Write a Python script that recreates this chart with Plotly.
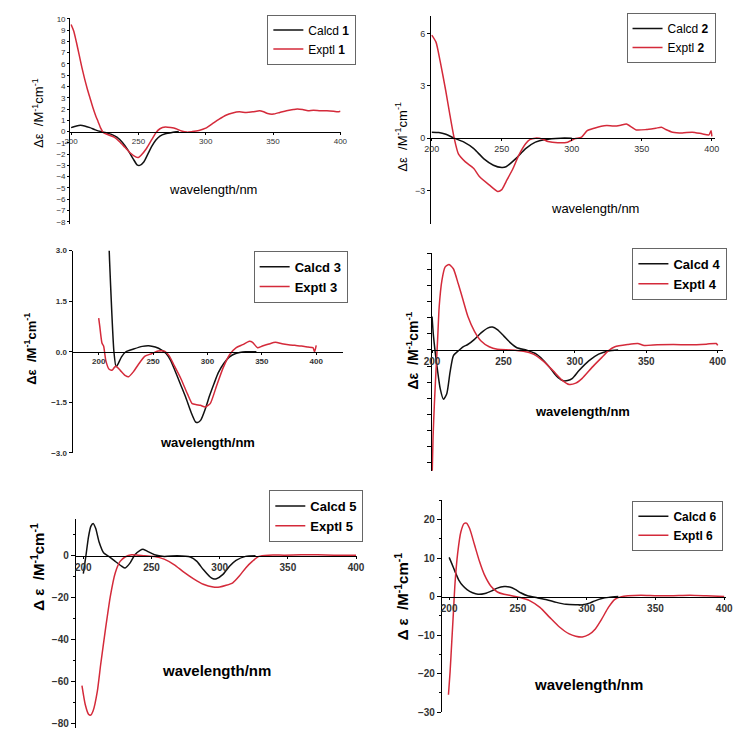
import plotly.graph_objects as go

# ---- data (wavelength nm, delta epsilon) ----
wl_c1 = [200, 204, 207, 210, 214, 218, 222, 226, 230, 234, 238, 242, 246, 249, 251, 254, 257, 260, 263, 266, 270, 275, 280]
de_c1 = [0.35, 0.5, 0.55, 0.5, 0.35, 0.15, 0.0, -0.1, -0.25, -0.5, -0.95, -1.6, -2.4, -2.95, -3.0, -2.7, -2.0, -1.3, -0.75, -0.4, -0.2, -0.08, 0.0]
wl_e1 = [200, 202, 204, 206, 208, 210, 212, 214, 216, 218, 220, 222, 224, 228, 232, 236, 240, 244, 248, 250,
         252, 256, 260, 263, 266, 270, 274, 278, 282, 286, 290, 295, 300, 305, 310, 315, 320, 325, 330, 335,
         340, 343, 346, 350, 355, 360, 365, 368, 372, 376, 380, 385, 390, 395, 398, 400]
de_e1 = [9.5, 8.9, 7.9, 6.8, 5.7, 4.7, 3.8, 3.0, 2.2, 1.5, 0.9, 0.3, -0.1, -0.3, -0.5, -0.9, -1.4, -1.9, -2.25, -2.3,
         -2.1, -1.5, -0.7, -0.1, 0.25, 0.4, 0.35, 0.25, 0.05, -0.05, 0.0, 0.1, 0.3, 0.7, 1.1, 1.45, 1.65, 1.75, 1.7, 1.75,
         1.85, 1.75, 1.6, 1.55, 1.7, 1.85, 1.95, 2.0, 1.95, 1.85, 1.9, 1.85, 1.85, 1.8, 1.75, 1.8]

wl_c2 = [200, 205, 210, 216, 223, 230, 237, 244, 250, 253, 260, 267, 274, 281, 292, 300]
de_c2 = [0.34, 0.32, 0.22, 0.0, -0.23, -0.6, -1.17, -1.55, -1.68, -1.64, -1.17, -0.6, -0.23, -0.08, 0.0, 0.0]
wl_e2 = [200, 203, 206, 210, 213, 216, 219, 224, 230, 234, 241, 247, 250, 253, 258, 262, 267, 270, 274, 279,
         283, 290, 297, 302, 307, 311, 316, 321, 325, 330, 335, 339, 343, 346, 353, 360, 364, 367, 372, 379,
         386, 393, 398, 399.5, 400]
de_e2 = [5.9, 5.5, 4.4, 2.7, 1.3, 0.0, -0.9, -1.36, -1.74, -2.2, -2.68, -3.05, -2.95, -2.5, -1.74, -1.0, -0.32, -0.08, 0.0, -0.05,
         -0.19, -0.26, -0.23, -0.04, 0.06, 0.43, 0.57, 0.68, 0.72, 0.69, 0.74, 0.81, 0.62, 0.47, 0.49, 0.57, 0.62, 0.5, 0.34, 0.3,
         0.34, 0.25, 0.19, 0.43, 0.1]

wl_c3 = [208, 210, 212, 214, 216, 218, 221, 225, 232, 240, 246, 252, 258, 262, 266, 270, 275, 280, 285, 289,
         291, 294, 298, 302, 306, 310, 315, 320, 326, 335, 345]
de_c3 = [4.5, 2.7, 1.2, 0.0, -0.45, -0.35, -0.15, 0.0, 0.08, 0.16, 0.18, 0.14, 0.05, -0.05, -0.25, -0.55, -0.95, -1.35, -1.8, -2.08,
         -2.1, -2.02, -1.7, -1.3, -0.95, -0.62, -0.35, -0.16, -0.05, 0.0, 0.0]
wl_e3 = [200, 201, 203, 204.5, 206.6, 209.6, 212.6, 215.6, 220, 224.6, 227.6, 232, 236.6, 242.6, 248.6, 254.6, 260.6, 265, 269.6, 275.6,
         281.6, 286, 290, 293.6, 298, 302.5, 308.5, 314.5, 320.5, 326.5, 332.5, 338.5, 341.5, 346, 350.5, 356.5, 362.5, 368.5, 374.5, 380.5,
         386.5, 392.5, 397, 398.5, 400]
de_e3 = [1.0, 0.75, 0.26, 0.17, -0.27, -0.52, -0.54, -0.42, -0.56, -0.71, -0.74, -0.59, -0.37, -0.13, -0.06, 0.02, 0.02, -0.13, -0.42, -0.8,
         -1.25, -1.54, -1.57, -1.59, -1.64, -1.54, -1.0, -0.47, -0.08, 0.12, 0.21, 0.31, 0.28, 0.12, 0.17, 0.23, 0.28, 0.24, 0.21, 0.19,
         0.17, 0.14, 0.12, 0.0, 0.19]

wl_c4 = [200, 201, 203.4, 205.7, 208, 210.3, 212.6, 214.9, 218.3, 221.7, 225, 229.7, 234.3, 238.9, 242.3, 245.7, 250.3, 254.9, 259.4, 266.3,
         273, 277.7, 282.3, 286.9, 291.4, 294.9, 298.3, 302.9, 309.7, 316.6, 323.4, 330.3]
de_c4 = [10.4, 4.3, -4.9, -12, -15.3, -13.6, -6.9, -1.8, -0.3, 1.0, 1.7, 3.3, 5.3, 6.8, 7.1, 6.3, 4.3, 2.2, 0.7, -0.1,
         -1.3, -3.1, -5.4, -8.0, -9.5, -9.5, -8.8, -6.4, -3.4, -1.3, -0.3, 0.0]
wl_e4 = [200, 200.7, 201.6, 202.7, 203.9, 205, 206.9, 209.1, 211.9, 214.9, 218.3, 221.7, 225.1, 229.7, 234.3, 240, 245.7, 254.9, 264, 270.9,
         277.7, 284.6, 291.4, 296, 300.6, 305.1, 312, 318.9, 323.4, 328, 337.1, 344, 348.6, 357.7, 369, 380.6, 392, 399, 400]
de_e4 = [-40, -27, -17, -6.9, 3.3, 13.5, 21.6, 25.7, 26.5, 25.2, 20.6, 15.5, 10.4, 5.8, 2.8, 1.0, 0.2, 0.0, -0.4, -1.3,
         -3.4, -6.4, -9.5, -10.7, -10.3, -8.8, -5.4, -2.3, -0.3, 1.0, 1.7, 2.0, 1.4, 1.6, 1.7, 1.6, 1.8, 2.0, 1.4]

wl_c5 = [200, 201.9, 203.8, 205.5, 207.2, 209.1, 211.5, 215, 218.7, 223.4, 228.2, 230.6, 234.2, 237.8, 241.4, 243.8, 247.4, 252.2, 259.3, 268.9,
         278.5, 283.3, 288, 292.8, 295.2, 297.6, 302.4, 307.2, 312, 319, 326.3]
de_c5 = [-8.5, 0, 9, 14, 15.4, 13, 6.7, 1.3, -0.3, -2.7, -5.0, -5.8, -3.5, 0.5, 2.5, 3.1, 2.0, 0.5, -0.3, 0,
         -0.6, -2.7, -6.6, -10, -11, -11, -8.9, -5, -2.2, -0.3, 0]
wl_e5 = [199, 201.4, 203.8, 205.5, 207.2, 210.3, 212.7, 216.3, 219.9, 223.4, 227, 230.6, 235.4, 240.2, 245, 252.2, 259.3, 266.5, 273.7, 280.9,
         288, 295.2, 300, 304.8, 309.6, 314.4, 319.1, 323.9, 328.7, 335.9, 347.8, 359.8, 371.8, 383.7, 400]
de_e5 = [-62, -71, -75.6, -76, -74, -64.6, -52, -34.8, -19, -8.2, -2.7, -0.6, 0.5, 0.3, 0, -0.3, -1.6, -4.2, -7.8, -11,
         -13.6, -14.9, -14.9, -14.1, -12.9, -9.7, -5.8, -2.7, -0.3, 0.3, 0.3, 0.5, 0.5, 0.3, 0.2]

wl_c6 = [200, 202, 204.3, 207, 210, 213, 217, 221, 226, 231, 235, 240, 244, 248, 252, 257, 264, 271, 278, 285,
         292, 297, 302, 306, 311, 316, 323]
de_c6 = [10.2, 8.5, 6.5, 4.3, 2.8, 1.8, 1.0, 0.6, 0.8, 1.5, 2.2, 2.6, 2.5, 1.9, 1.0, 0.2, -0.3, -0.8, -1.5, -2.0,
         -2.1, -2.1, -1.7, -1.1, -0.5, -0.2, 0.0]
wl_e6 = [199.5, 200.7, 201.9, 203.1, 204.3, 206.2, 208.5, 210.9, 212.6, 214.9, 218.5, 222.1, 225.6, 230.4, 235.1, 239.9, 244.6, 251.7, 258.8, 266,
         273.1, 280.2, 287.3, 292, 296.8, 301.5, 306.3, 311, 315.8, 320.5, 325.3, 330, 339.5, 351.4, 363.2, 375.1, 387, 400]
de_e6 = [-25.5, -19.5, -11.8, -4.1, 3.6, 11.3, 16.8, 19.0, 19.1, 17.7, 13.4, 9.1, 5.7, 2.7, 1.2, 0.6, 0.3, -0.25, -1.1, -2.8,
         -5.4, -7.9, -9.7, -10.3, -10.5, -9.9, -8.4, -5.8, -2.8, -0.7, 0.0, 0.2, 0.35, 0.2, 0.25, 0.35, 0.2, 0.0]

x_ticks = [200, 250, 300, 350, 400]

W, H = 751, 742
FONT = "Liberation Sans, Arial, sans-serif"
RED = "#d42a3a"


def fx(px):
    return px / W


def fy(py):
    return 1 - py / H


# layout of each panel in pixels: plot box, ranges, legend centre, titles
panels = [
    dict(n=1, c=(wl_c1, de_c1), e=(wl_e1, de_e1), box=(63.5, 340, 13.9, 223), xr=[199.3, 400.3], yr=[-8.2, 10.1],
         yt=dict(tickvals=list(range(-8, 11)), ticks="outside", ticklen=2), tick_size=8, bold=False,
         leg=(265, 36), leg_size=12, xt=(209, 188), xt_size=13, ytl=(30, 110), ytl_size=13,
         ytitle="Δε  /M<sup>-1</sup>cm<sup>-1</sup>"),
    dict(n=2, c=(wl_c2, de_c2), e=(wl_e2, de_e2), box=(432.3, 722, 12.1, 222.7), xr=[199.5, 402], yr=[-4.9, 7.0],
         yt=dict(tickvals=[-3, 0, 3, 6], ticks="outside", ticklen=3), tick_size=9, bold=False,
         leg=(632, 34.5), leg_size=12, xt=(600, 207), xt_size=13, ytl=(402, 134), ytl_size=13,
         ytitle="Δε  /M<sup>-1</sup>cm<sup>-1</sup>"),
    dict(n=3, c=(wl_c3, de_c3), e=(wl_e3, de_e3), box=(66, 342.7, 250, 455), xr=[176, 425], yr=[-3, 3],
         yt=dict(tickvals=[-3, -1.5, 0, 1.5, 3], tickformat=".1f", ticks="outside", ticklen=3), tick_size=8, bold=True,
         leg=(251, 276.5), leg_size=13, xt=(204, 444), xt_size=13, ytl=(23, 350), ytl_size=13,
         ytitle="Δε  /M<sup>-1</sup>cm<sup>-1</sup>"),
    dict(n=4, c=(wl_c4, de_c4), e=(wl_e4, de_e4), box=(433, 731, 252.7, 473.2), xr=[199.8, 404], yr=[-37.5, 30],
         yt=dict(tickvals=list(range(-35, 31, 5)), showticklabels=False, ticks="outside", ticklen=4), tick_size=10, bold=True,
         leg=(638, 273.5), leg_size=13, xt=(587, 413), xt_size=13, ytl=(413, 351), ytl_size=14,
         ytitle="Δε  /M<sup>-1</sup>cm<sup>-1</sup>"),
    dict(n=5, c=(wl_c5, de_c5), e=(wl_e5, de_e5), box=(69.3, 356.3, 521.7, 733.5), xr=[194.5, 400.5], yr=[-82, 17.7],
         yt=dict(tickvals=[-80, -60, -40, -20, 0], ticks="outside", ticklen=4,
                 minor=dict(tickvals=[-70, -50, -30, -10, 10], ticks="outside", ticklen=2)), tick_size=10, bold=True,
         leg=(267, 519), leg_size=13, xt=(213, 676), xt_size=15, ytl=(30, 570), ytl_size=15,
         ytitle="Δ ε  /M<sup>-1</sup>cm<sup>-1</sup>"),
    dict(n=6, c=(wl_c6, de_c6), e=(wl_e6, de_e6), box=(443.3, 733.2, 503.2, 717.7), xr=[194.7, 401], yr=[-30, 25],
         yt=dict(tickvals=[-30, -20, -10, 0, 10, 20], ticks="outside", ticklen=4,
                 minor=dict(tickvals=[-25, -15, -5, 5, 15, 25], ticks="outside", ticklen=2)), tick_size=10, bold=True,
         leg=(638, 529), leg_size=12, xt=(593, 690), xt_size=15, ytl=(402, 600), ytl_size=15,
         ytitle="Δ ε  /M<sup>-1</sup>cm<sup>-1</sup>"),
]

fig = go.Figure()
annotations = []

for p in panels:
    n = p["n"]
    sfx = "" if n == 1 else str(n)
    leg_name = "legend" if n == 1 else f"legend{n}"
    weight = "bold" if p["bold"] else "normal"
    num = f"<b>{n}</b>" if not p["bold"] else str(n)

    fig.add_trace(go.Scatter(x=p["c"][0], y=p["c"][1], mode="lines", name=f"Calcd {num}",
                             line=dict(color="#111111", width=1.5, shape="spline", smoothing=0.6),
                             xaxis=f"x{sfx}", yaxis=f"y{sfx}", legend=leg_name))
    fig.add_trace(go.Scatter(x=p["e"][0], y=p["e"][1], mode="lines", name=f"Exptl {num}",
                             line=dict(color=RED, width=1.5, shape="spline", smoothing=0.6),
                             xaxis=f"x{sfx}", yaxis=f"y{sfx}", legend=leg_name))

    x0, x1, ytop, ybot = p["box"]
    ylo, yhi = p["yr"]
    zero_py = ytop + (yhi - 0) / (yhi - ylo) * (ybot - ytop)
    tickfont = dict(family=FONT, size=p["tick_size"], color="#333333", weight=weight)

    fig.layout[f"xaxis{sfx}"] = dict(
        domain=[fx(x0), fx(x1)], range=p["xr"], anchor="free", position=fy(zero_py),
        showline=True, linecolor="black", linewidth=1, showgrid=False, zeroline=False,
        tickvals=x_ticks, ticks="outside", ticklen=2, tickcolor="black", tickfont=tickfont,
    )
    yax = dict(
        domain=[fy(ybot), fy(ytop)], range=p["yr"], anchor=f"x{sfx}",
        showline=True, linecolor="black", linewidth=1, showgrid=False, zeroline=False,
        tickcolor="black", tickfont=tickfont,
    )
    yax.update(p["yt"])
    fig.layout[f"yaxis{sfx}"] = yax

    fig.layout[leg_name] = dict(
        x=fx(p["leg"][0]), y=fy(p["leg"][1]), xanchor="left", yanchor="middle",
        bgcolor="white", bordercolor="#666666", borderwidth=1, itemwidth=30,
        font=dict(family=FONT, size=p["leg_size"], color="black", weight=weight),
        tracegroupgap=0,
    )

    annotations.append(dict(text="wavelength/nm", x=fx(p["xt"][0]), y=fy(p["xt"][1]), xref="paper", yref="paper",
                            showarrow=False, xanchor="center", yanchor="middle",
                            font=dict(family=FONT, size=p["xt_size"], color="black", weight=weight)))
    annotations.append(dict(text=p["ytitle"], x=fx(p["ytl"][0]), y=fy(p["ytl"][1]), xref="paper", yref="paper",
                            showarrow=False, xanchor="center", yanchor="middle", textangle=-90,
                            font=dict(family=FONT, size=p["ytl_size"], color="black", weight=weight)))

fig.update_layout(
    width=W, height=H, margin=dict(l=0, r=0, t=0, b=0),
    paper_bgcolor="white", plot_bgcolor="white",
    annotations=annotations, showlegend=True,
)

# page body has a default 8px margin and may scroll; pin the figure to the window
fig.write_html(
    "out.html",
    config={"displayModeBar": False},
    post_script="document.body.style.margin='0';"
                "document.body.style.overflow='hidden';"
                "document.documentElement.style.overflow='hidden';",
)
